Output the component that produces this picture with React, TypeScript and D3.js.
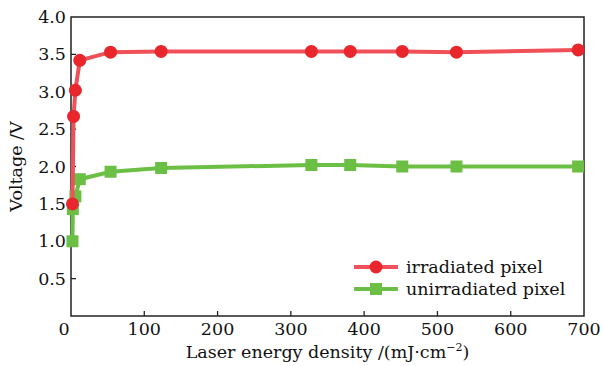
import React from 'react';
import * as d3 from 'd3';

// laser energy density (mJ/cm^2) and output voltage (V)
const irradiatedX = [2, 3.5, 6, 12, 54, 123, 328, 381, 452, 526, 692];
const irradiatedY = [1.5, 2.67, 3.02, 3.42, 3.53, 3.54, 3.54, 3.54, 3.54, 3.53, 3.56];
const unirradiatedX = [2, 2.5, 6, 12, 54, 123, 328, 381, 452, 526, 692];
const unirradiatedY = [1.0, 1.43, 1.6, 1.83, 1.93, 1.98, 2.02, 2.02, 2.0, 2.0, 2.0];
const xTicks = [0, 100, 200, 300, 400, 500, 600, 700];
const yTicks = [0.5, 1.0, 1.5, 2.0, 2.5, 3.0, 3.5, 4.0];
const seriesNames = ['irradiated pixel', 'unirradiated pixel'];

const W = 603, H = 366;
const left = 71, right = 584, top = 17, bottom = 316;
const FONT = '"DejaVu Serif", serif';
const FS = 17.5;
const RED_LINE = '#f05058';
const RED = '#e8262c';
const GREEN = '#6cbf45';
const INK = '#111';

export default function App() {
  const x = d3.scaleLinear().domain([0, 700]).range([left, right]);
  const y = d3.scaleLinear().domain([0, 4]).range([bottom, top]);
  const line = d3.line<[number, number]>().x(d => x(d[0])).y(d => y(d[1]));
  const red = irradiatedX.map((v, i) => [v, irradiatedY[i]] as [number, number]);
  const green = unirradiatedX.map((v, i) => [v, unirradiatedY[i]] as [number, number]);

  return (
    <svg width={W} height={H} style={{ position: 'absolute', left: 0, top: 0 }} fontFamily={FONT}>
      <rect width={W} height={H} fill="white" />
      {/* frame */}
      <rect x={left} y={top} width={right - left} height={bottom - top} fill="none" stroke="#222" strokeWidth={1.5} />
      {xTicks.map(t => (
        <g key={'x' + t}>
          {t > 0 && t < 700 && <line x1={x(t)} x2={x(t)} y1={bottom} y2={bottom - 5} stroke="#222" strokeWidth={1.3} />}
          <text x={t === 0 ? x(t) - 7 : x(t)} y={bottom + 19} textAnchor="middle" fontSize={FS} fill={INK}>{t}</text>
        </g>
      ))}
      {yTicks.map(t => (
        <g key={'y' + t}>
          {t < 4 && <line x1={left} x2={left + 5} y1={y(t)} y2={y(t)} stroke="#222" strokeWidth={1.3} />}
          <text x={left - 5} y={y(t) + 6} textAnchor="end" fontSize={FS} fill={INK}>{t.toFixed(1)}</text>
        </g>
      ))}
      <text x={(left + right) / 2} y={358} textAnchor="middle" fontSize={FS} fill={INK}>
        Laser energy density /(mJ·cm<tspan dy={-7} fontSize={11}>−2</tspan><tspan dy={7}>)</tspan>
      </text>
      <text transform={`translate(22,${(top + bottom) / 2}) rotate(-90)`} textAnchor="middle" fontSize={FS} fill={INK}>Voltage /V</text>

      {/* series */}
      <path d={line(green) ?? ''} fill="none" stroke={GREEN} strokeWidth={4} />
      {green.map((d, i) => (
        <rect key={'g' + i} x={x(d[0]) - 6} y={y(d[1]) - 6} width={12} height={12} fill={GREEN} />
      ))}
      <path d={line(red) ?? ''} fill="none" stroke={RED_LINE} strokeWidth={4} />
      {red.map((d, i) => (
        <circle key={'r' + i} cx={x(d[0])} cy={y(d[1])} r={6.5} fill={RED} />
      ))}

      {/* legend */}
      <g>
        <line x1={354} x2={398} y1={267} y2={267} stroke={RED_LINE} strokeWidth={4} />
        <circle cx={376} cy={267} r={6.5} fill={RED} />
        <text x={406} y={273} fontSize={FS} fill={INK}>{seriesNames[0]}</text>
        <line x1={354} x2={398} y1={289} y2={289} stroke={GREEN} strokeWidth={4} />
        <rect x={370} y={283} width={12} height={12} fill={GREEN} />
        <text x={406} y={295} fontSize={FS} fill={INK}>{seriesNames[1]}</text>
      </g>
    </svg>
  );
}
